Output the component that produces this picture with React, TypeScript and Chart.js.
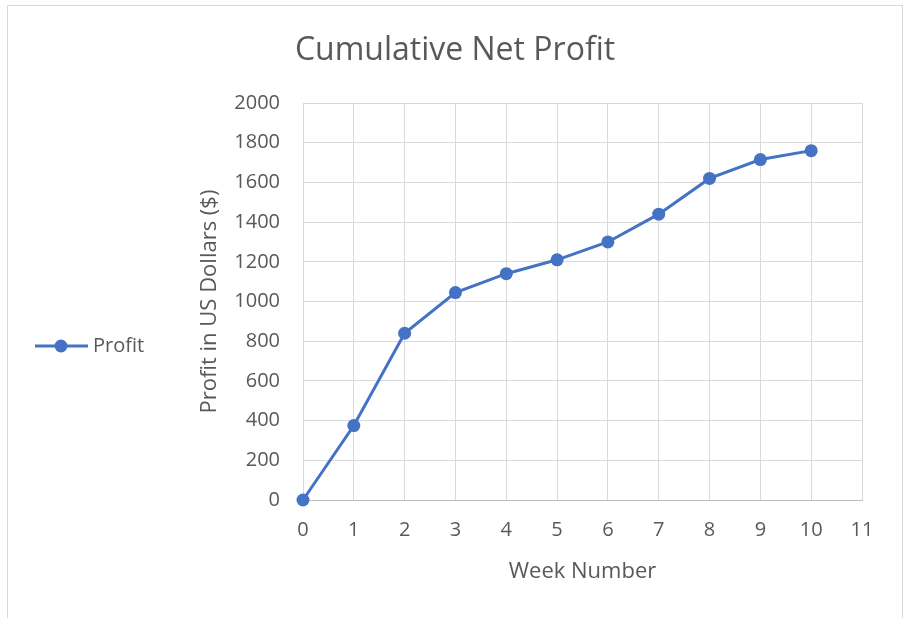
import React, { useEffect, useRef } from "react";
import { Chart, registerables } from "chart.js";

Chart.register(...registerables);

const weeks = [0, 1, 2, 3, 4, 5, 6, 7, 8, 9, 10];
const profit = [0, 375, 840, 1045, 1140, 1210, 1300, 1440, 1620, 1715, 1760];
const seriesLabel = "Profit";
const chartTitle = "Cumulative Net Profit";
const xTitle = "Week Number";
const yTitle = "Profit in US Dollars ($)";

const FONT = "'Open Sans', sans-serif";
const TEXT = "#595959";
const BLUE = "#4472C4";
const GRID = "#d9d9d9";

const decorPlugin = {
  id: "decor",
  beforeDraw(chart: any) {
    const ctx = chart.ctx;
    ctx.save();
    ctx.fillStyle = "#ffffff";
    ctx.fillRect(0, 0, chart.width, chart.height);
    ctx.strokeStyle = GRID;
    ctx.lineWidth = 1;
    ctx.strokeRect(7.5, 5.5, 895, 700);
    ctx.restore();
  },
  afterDraw(chart: any) {
    const ctx = chart.ctx;
    ctx.save();
    ctx.fillStyle = TEXT;
    ctx.font = `32px ${FONT}`;
    ctx.textAlign = "center";
    ctx.textBaseline = "middle";
    ctx.fillText(chartTitle, 455, 51);
    const ly = 346;
    ctx.strokeStyle = BLUE;
    ctx.lineWidth = 3;
    ctx.beginPath();
    ctx.moveTo(35, ly);
    ctx.lineTo(88, ly);
    ctx.stroke();
    ctx.fillStyle = BLUE;
    ctx.beginPath();
    ctx.arc(61, ly, 6.5, 0, Math.PI * 2);
    ctx.fill();
    ctx.fillStyle = TEXT;
    ctx.font = `20px ${FONT}`;
    ctx.textAlign = "left";
    ctx.fillText(chart.data.datasets[0].label, 93, ly);
    ctx.restore();
  },
};

export default function App() {
  const ref = useRef<HTMLCanvasElement>(null);
  useEffect(() => {
    if (!ref.current) return;
    const chart = new Chart(ref.current, {
      type: "line",
      data: {
        datasets: [
          {
            label: seriesLabel,
            data: weeks.map((w, i) => ({ x: w, y: profit[i] })),
            borderColor: BLUE,
            backgroundColor: BLUE,
            borderWidth: 3,
            pointRadius: 6.5,
            pointHoverRadius: 6.5,
            pointBackgroundColor: BLUE,
            pointBorderColor: BLUE,
            pointBorderWidth: 0,
            tension: 0,
            fill: false,
            clip: false,
          },
        ],
      },
      options: {
        animation: false,
        responsive: false,
        events: [],
        layout: { padding: { left: 190, right: 44, top: 103, bottom: 28 } },
        plugins: {
          legend: { display: false },
          title: { display: false },
          tooltip: { enabled: false },
        },
        scales: {
          x: {
            type: "linear",
            min: 0,
            max: 11,
            ticks: {
              stepSize: 1,
              color: TEXT,
              font: { family: FONT, size: 20 },
              padding: 18,
              callback: (v: any) => String(v),
            },
            grid: { color: GRID, drawTicks: false },
            border: { color: "#bfbfbf" },
            title: {
              display: true,
              text: xTitle,
              color: TEXT,
              font: { family: FONT, size: 22 },
              padding: { top: 0, bottom: 5 },
            },
            afterFit: (s: any) => {
              s.height = 90;
            },
          },
          y: {
            type: "linear",
            min: 0,
            max: 2000,
            ticks: {
              stepSize: 200,
              color: TEXT,
              font: { family: FONT, size: 20 },
              padding: 23,
              callback: (v: any) => String(v),
            },
            grid: { color: GRID, drawTicks: false },
            border: { color: GRID },
            title: {
              display: true,
              text: yTitle,
              color: TEXT,
              font: { family: FONT, size: 22 },
              padding: { top: 7, bottom: 0 },
            },
            afterFit: (s: any) => {
              s.width = 113;
            },
          },
        },
      },
      plugins: [decorPlugin],
    });
    return () => chart.destroy();
  }, []);
  return (
    <div style={{ position: "absolute", left: 0, top: 0, width: 906, height: 618 }}>
      <canvas ref={ref} width={906} height={618} style={{ display: "block" }} />
    </div>
  );
}
